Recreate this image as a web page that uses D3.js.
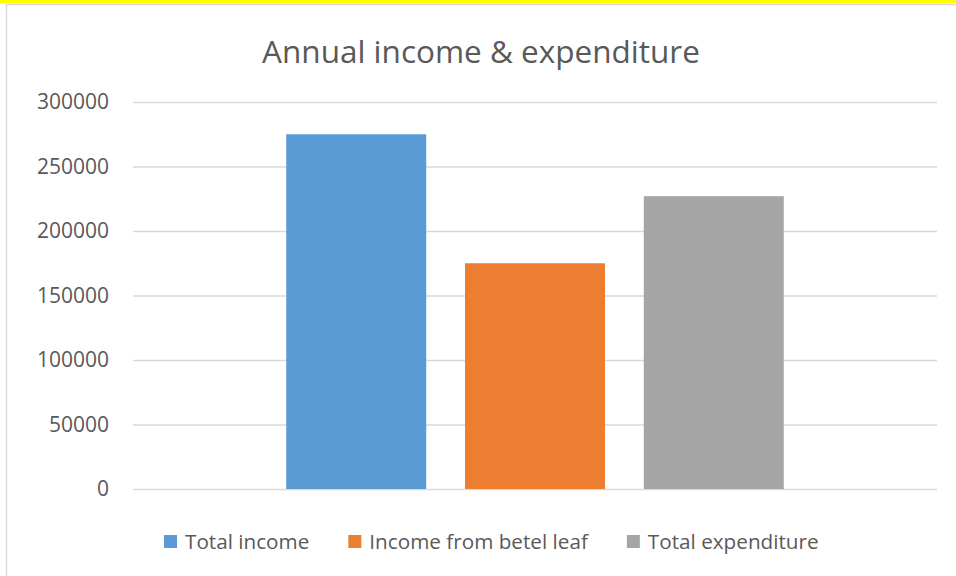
<!DOCTYPE html>
<html>
<head>
<meta charset="utf-8">
<script src="https://cdn.jsdelivr.net/npm/d3@7.9.0/dist/d3.min.js"></script>
<style>
  html, body { margin: 0; padding: 0; background: #fff; }
  svg { display: block; font-family: "Open Sans", sans-serif; }
</style>
</head>
<body>
<svg id="chart" width="956" height="576"></svg>
<script>
// data
const title = 'Annual income & expenditure';
const categories = [''];
const seriesNames = ['Total income', 'Income from betel leaf', 'Total expenditure'];
const seriesValues = [275000, 175000, 227000];
const seriesColors = ['#5B9BD5', '#ED7D31', '#A5A5A5'];
const yTicks = [0, 50000, 100000, 150000, 200000, 250000, 300000];

const svg = d3.select('#chart');
const textColor = '#595959';

// yellow highlight strip at the very top and the chart frame
svg.append('rect').attr('x', 0).attr('y', 0).attr('width', 956).attr('height', 3).attr('fill', '#FFFF00');
svg.append('rect')
  .attr('x', 6.5).attr('y', 4.5).attr('width', 970).attr('height', 600)
  .attr('fill', '#fff').attr('stroke', '#D9D9D9').attr('stroke-width', 1.5);

const plot = { left: 133, right: 937, top: 102, bottom: 489 };

let y = d3.scaleLinear().domain([0, 300000]).range([plot.bottom, plot.top]);

let x0 = d3.scaleBand().domain(categories).range([plot.left, plot.right])
  .paddingInner(0).paddingOuter(0.308);
let x1 = d3.scaleBand().domain(seriesNames).range([0, x0.bandwidth()])
  .paddingInner(0.217).paddingOuter(0);

// gridlines + labels
let yAxis = d3.axisLeft(y).tickValues(yTicks).tickSize(-(plot.right - plot.left)).tickPadding(24)
  .tickFormat(d3.format('d'));
let gy = svg.append('g').attr('transform', `translate(${plot.left},0)`).call(yAxis);
gy.select('.domain').remove();
gy.selectAll('.tick line').attr('stroke', '#D9D9D9').attr('stroke-width', 1.5);
gy.selectAll('.tick text').attr('fill', textColor).attr('font-size', 21)
  .attr('font-family', '"Open Sans", sans-serif');

// bars
let group = svg.append('g').selectAll('g').data(categories).join('g')
  .attr('transform', (d) => `translate(${x0(d)},0)`);
group.selectAll('rect')
  .data(seriesNames.map((name, i) => ({ name: name, value: seriesValues[i], color: seriesColors[i] })))
  .join('rect')
  .attr('x', (d) => x1(d.name))
  .attr('width', x1.bandwidth())
  .attr('y', (d) => y(d.value))
  .attr('height', (d) => y(0) - y(d.value))
  .attr('fill', (d) => d.color);

// title
svg.append('text')
  .attr('x', 481).attr('y', 63)
  .attr('text-anchor', 'middle')
  .attr('font-size', 31.5)
  .attr('fill', textColor)
  .text(title);

// legend
let legend = svg.append('g').attr('transform', 'translate(164,535)');
let lx = 0;
seriesNames.forEach((name, i) => {
  let item = legend.append('g').attr('transform', `translate(${lx},0)`);
  item.append('rect').attr('width', 13).attr('height', 13).attr('fill', seriesColors[i]);
  let t = item.append('text').attr('x', 21).attr('y', 13.5)
    .attr('font-size', 20.7).attr('fill', textColor).text(name);
  lx += 21 + t.node().getComputedTextLength() + 39;
});
</script>
</body>
</html>
